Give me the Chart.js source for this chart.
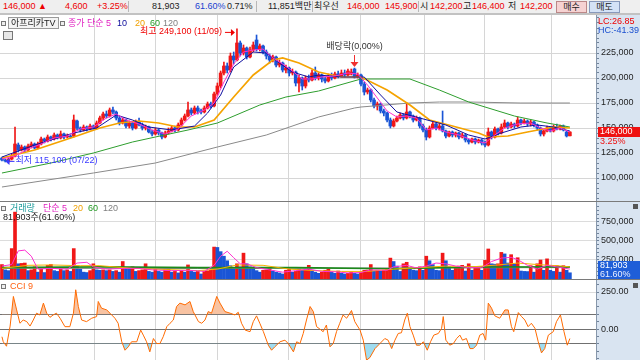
<!DOCTYPE html>
<html>
<head>
<meta charset="utf-8">
<script src="https://cdn.jsdelivr.net/npm/chart.js@4.4.1/dist/chart.umd.min.js"></script>
<style>
  body { margin: 0; background: #fff; }
  #wrap { position: relative; width: 640px; height: 360px; overflow: hidden; background: #fff;
          font-family: "Liberation Sans", "Noto Sans CJK KR", sans-serif; font-size: 9px; color: #222; }
  .a { position: absolute; white-space: nowrap; line-height: 11px; }
  canvas { position: absolute; left: 0; }
  .sq { position: absolute; width: 3px; height: 3px; border: 1px solid #777; background: #eee; }
  .vsep { position: absolute; top: 1px; width: 1px; height: 11px; background: #b8b8b8; }
</style>
</head>
<body>
<div id="wrap">
  <!-- header strip -->
  <div class="a" style="left:0;top:0;width:640px;height:13px;background:#efefef;"></div>
  <div class="a" style="left:0;top:13px;width:640px;height:2px;background:#c2c2c2;"></div>
  <span class="a" style="left:3px;top:1px;color:#e00;">146,000 ▲</span>
  <span class="a" style="left:65px;top:1px;color:#e00;">4,600</span>
  <span class="a" style="left:97px;top:1px;color:#e00;">+3.25%</span>
  <div class="vsep" style="left:128px;"></div>
  <span class="a" style="left:152px;top:1px;">81,903</span>
  <span class="a" style="left:195px;top:1px;color:#1a3fd0;">61.60%</span>
  <span class="a" style="left:227px;top:1px;">0.71%</span>
  <div class="vsep" style="left:256px;"></div>
  <span class="a" style="left:268px;top:1px;">11,851백만</span>
  <div class="vsep" style="left:312px;"></div>
  <span class="a" style="left:314px;top:1px;">최우선</span>
  <span class="a" style="left:347px;top:1px;color:#e00;">146,000</span>
  <span class="a" style="left:385px;top:1px;color:#e00;">145,900</span>
  <div class="vsep" style="left:418px;"></div>
  <span class="a" style="left:420px;top:1px;">시</span>
  <span class="a" style="left:430px;top:1px;color:#e00;">142,200</span>
  <span class="a" style="left:463px;top:1px;">고</span>
  <span class="a" style="left:472px;top:1px;color:#e00;">146,400</span>
  <span class="a" style="left:508px;top:1px;">저</span>
  <span class="a" style="left:520px;top:1px;color:#e00;">142,200</span>
  <div class="a" style="left:556px;top:1px;width:29px;height:10px;background:#f6d2d2;border:1px solid #b88;text-align:center;line-height:10px;">매수</div>
  <div class="a" style="left:589px;top:1px;width:29px;height:10px;background:#d4e2f6;border:1px solid #89b;text-align:center;line-height:10px;">매도</div>

  <!-- right axis background -->
  <div class="a" style="left:596px;top:15px;width:44px;height:345px;background:#d9e4f1;"></div>

  <canvas id="cPrice" width="640" height="186" style="top:15px;"></canvas>
  <div class="a" style="left:0;top:201px;width:640px;height:1px;background:#7a7a7a;"></div>
  <canvas id="cVol" width="640" height="77" style="top:202px;"></canvas>
  <div class="a" style="left:0;top:279px;width:640px;height:1px;background:#7a7a7a;"></div>
  <canvas id="cCci" width="640" height="80" style="top:280px;"></canvas>

  <!-- price legend -->
  <div class="sq" style="left:1px;top:21px;"></div>
  <div class="a" style="left:8px;top:17px;width:47px;height:10px;border:1px solid #9a9a9a;background:#f4f4f4;line-height:10px;padding-left:2px;">아프리카TV</div>
  <div class="sq" style="left:60px;top:21px;"></div>
  <span class="a" style="left:68px;top:18px;color:#e020c0;">종가 단순 5</span>
  <span class="a" style="left:117px;top:18px;color:#0a0a9a;">10</span>
  <span class="a" style="left:135px;top:18px;color:#f0a000;">20</span>
  <span class="a" style="left:150px;top:18px;color:#229a22;">60</span>
  <span class="a" style="left:163px;top:18px;color:#808080;">120</span>
  <div class="a" style="left:3px;top:31px;width:8px;height:7px;border:1px solid #777;background:#e8e8e8;"></div>
  <span class="a" style="left:598px;top:16px;color:#e00;">LC:26.85</span>
  <span class="a" style="left:598px;top:25px;color:#1a4fd0;">HC:-41.39</span>

  <!-- volume legend -->
  <div class="sq" style="left:1px;top:206px;"></div>
  <span class="a" style="left:10px;top:203px;color:#1a9a9a;">거래량</span>
  <span class="a" style="left:43px;top:203px;color:#e020c0;">단순 5</span>
  <span class="a" style="left:73px;top:203px;color:#f0a000;">20</span>
  <span class="a" style="left:88px;top:203px;color:#229a22;">60</span>
  <span class="a" style="left:103px;top:203px;color:#808080;">120</span>
  <span class="a" style="left:3px;top:212px;color:#222;">81,903주(61.60%)</span>
  <div class="a" style="left:633px;top:204px;width:5px;height:5px;background:#555;"></div>

  <!-- cci legend -->
  <div class="sq" style="left:1px;top:284px;"></div>
  <span class="a" style="left:10px;top:281px;color:#ff6010;">CCI 9</span>
  <div class="a" style="left:633px;top:283px;width:5px;height:5px;background:#555;"></div>
</div>

<script>
// daily candles, prices in thousands of won
const opens = [120,118,117,119,122,133,128,131,128,132,
  134,130,134,139,137,141,139,143,140,144,
  141,142,142,157,150,148,151,149,152,150,
  155,160,164,162,168,166,160,155,158,152,
  155,150,156,153,150,151,146,144,148,145,
  141,145,147,150,148,153,158,162,168,165,
  170,167,166,170,174,172,184,192,205,212,
  208,222,218,235,225,230,221,228,238,229,
  232,226,222,218,221,213,215,208,210,205,
  206,195,200,192,200,198,205,200,203,199,
  197,202,200,204,202,205,203,204,209,201,
  203,194,186,188,178,172,174,167,165,158,
  152,157,160,163,160,166,162,158,160,152,
  148,141,150,154,150,152,147,142,146,143,
  145,141,143,138,136,139,136,138,135,133,
  146,141,149,145,151,155,151,154,152,158,
  155,157,154,156,153,150,144,147,150,147,
  151,149,152,146,142.2];
const highs = [121,119,120,124,151,135,133,132,134,136,
  135,136,141,140,143,142,145,144,147,145,
  144,143,163,158,151,153,152,154,153,157,
  162,166,167,170,171,167,162,160,159,157,
  156,158,160,155,153,152,148,150,149,146,
  147,150,152,152,155,160,164,176,170,172,
  172,169,172,176,176,186,195,207,216,215,
  225,226,249.1,237,233,231,231,236,243,234,
  233,228,224,223,222,218,216,213,211,209,
  207,203,201,202,203,208,211,205,204,201,
  204,205,206,207,208,208,209,209,210,205,
  204,196,190,189,180,176,175,169,166,160,
  159,162,165,164,175,167,163,162,161,154,
  150,152,156,155,154,167,148,147,147,146,
  146,145,144,139,140,140,139,139,137,150,
  147,151,150,154,158,156,156,155,161,159,
  159,158,158,157,154,151,148,152,151,153,
  154,153,153,147,146.4];
const lows = [117,116,115.1,118,121,126,127,126,127,130,
  129,129,133,135,136,137,138,139,139,139,
  140,140,141,148,146,147,147,148,149,149,
  154,158,160,161,164,158,153,154,150,150,
  148,149,152,148,148,145,142,143,143,139,
  140,144,146,146,147,152,157,161,163,164,
  164,164,165,169,170,171,182,190,203,205,
  206,214,217,222,223,219,220,226,227,227,
  224,219,215,216,211,211,206,205,202,203,
  192,186,188,190,196,197,198,198,196,195,
  196,198,199,200,201,201,202,203,200,200,
  192,183,184,176,170,168,165,162,156,150,
  151,156,159,158,159,160,156,157,150,146,
  138,140,149,148,148,146,140,141,141,141,
  139,140,136,134,135,134,135,133,131,132,
  139,140,143,144,150,149,150,150,151,153,
  154,152,152,151,148,142,142,146,146,146,
  148,148,147,141,142.2];
const closes = [118,117,119,122,134,128,131,128,132,134,
  130,134,139,137,141,139,143,140,144,141,
  142,141,158,150,148,151,149,152,150,155,
  160,164,162,168,166,160,155,158,152,155,
  150,156,153,150,151,146,144,148,145,141,
  145,147,150,148,153,158,162,168,165,170,
  167,166,170,174,172,184,192,205,212,208,
  222,218,235,225,230,221,228,233,229,232,
  226,222,218,221,213,215,208,210,205,206,
  195,200,192,200,198,205,200,203,199,197,
  202,200,204,202,205,203,207,206,201,203,
  194,186,188,178,172,174,167,165,158,152,
  157,160,163,160,166,162,158,160,152,148,
  141,150,154,150,152,147,142,146,143,145,
  141,143,138,136,139,136,138,135,133,146,
  141,149,145,151,155,151,154,152,158,155,
  157,154,156,153,150,144,147,150,147,151,
  149,152,148,142,146];
// volume, thousands of shares
const volumes = [190,120,110,400,880,200,205,210,110,120,
  160,90,130,85,180,190,110,100,130,110,
  120,100,400,170,130,90,85,110,200,120,
  115,120,110,120,100,110,90,230,150,130,
  160,100,110,120,200,100,90,130,100,90,
  120,130,90,100,80,110,90,185,100,90,
  100,66,105,108,115,420,415,360,300,240,
  175,130,200,160,340,200,160,150,110,90,
  115,118,140,105,90,80,66,115,130,90,
  100,130,115,130,180,105,90,75,90,115,
  130,90,75,105,75,66,75,90,75,66,
  90,115,118,190,105,115,105,115,130,275,
  230,170,100,200,220,130,115,110,160,115,
  300,240,190,115,110,340,240,160,115,140,
  170,180,105,200,115,150,150,115,245,395,
  200,195,200,350,330,210,320,200,280,105,
  100,98,175,90,200,250,115,265,115,100,
  175,90,175,115,81.903];

// moving averages: [candle index, value]
const ma5 = [[0,119],[4,122],[8,129],[12,134],[16,140],[20,142],[24,149],[28,151],[32,160],[35,164],[38,158],[42,154],[46,148],[50,144],[54,149],[58,162],[62,168],[65,175],[68,196],[71,214],[74,226],[77,228],[80,229],[83,220],[86,214],[89,207],[92,199],[95,199],[98,201],[102,202],[106,205],[109,204],[112,193],[115,180],[118,167],[121,161],[124,162],[127,160],[130,148],[133,150],[136,146],[140,143],[144,138],[148,135],[151,143],[154,150],[158,154],[162,155],[165,150],[168,147],[171,150],[174,146]];
const ma10 = [[0,121],[10,133],[22,145],[29,150],[35,163],[40,158],[45,151],[52,148],[59,152],[63,165],[67,183],[71,211],[77,226],[81,225],[85,215],[89,206],[94,201],[97,203],[104,201],[111,201],[116,183],[121,166],[128,160],[136,153],[143,143],[148,139],[153,145],[159,151],[164,153],[169,151],[174,147]];
const ma20 = [[0,120],[10,128],[22,141],[30,150],[36,155],[42,157],[48,155],[54,151],[59,151],[65,158],[71,181],[77,203],[83,218],[86,220],[91,215],[97,206],[104,201],[110,201],[118,188],[125,173],[131,158],[138,152],[146,145],[149,141],[155,142],[161,146],[169,151],[174,150]];
const ma60 = [[0,105],[15,115],[28,125],[40,136],[47,141],[57,148],[66,155],[79,173],[87,181],[97,187],[110,199],[125,199],[134,188],[143,176],[157,162],[167,155],[174,151]];
const ma120 = [[0,91],[28,105],[47,115],[66,131],[81,143],[97,161],[108,170],[110,171],[125,175],[134,176],[143,176],[159,175],[174,175]];

const volMa5 = [[0,170],[3,190],[5,370],[7,380],[9,300],[11,130],[15,140],[20,130],[23,210],[26,220],[28,160],[32,130],[38,140],[42,140],[46,120],[52,110],[57,115],[62,100],[65,180],[67,300],[69,365],[71,280],[73,200],[75,200],[78,150],[82,120],[86,90],[90,110],[94,130],[98,100],[102,95],[106,80],[110,85],[113,120],[118,115],[120,160],[124,180],[127,145],[130,170],[133,210],[136,200],[139,170],[143,150],[147,150],[150,230],[153,275],[156,285],[158,255],[161,180],[164,130],[167,180],[170,160],[174,130]];
const volMa20 = [[0,140],[8,180],[15,185],[24,175],[30,175],[40,140],[50,125],[60,110],[66,130],[72,185],[80,180],[88,130],[96,110],[104,100],[112,100],[120,130],[128,150],[136,170],[144,160],[152,185],[158,210],[164,190],[170,175],[174,160]];
const volMa60 = [[0,150],[30,160],[60,150],[90,150],[120,135],[135,150],[150,158],[174,160]];
const volMa120 = [[0,140],[60,138],[120,145],[174,150]];

const cci = [[0,-52],[0.4,-86],[1.4,-116],[2.5,20],[3.5,220],[4.5,129],[5.5,39],[6.5,61],[7.6,50],[8.6,20],[9.6,61],[10.6,107],[11.6,95],[12.7,175],[13.7,107],[14.7,79],[15.7,95],[16.7,107],[17.8,73],[19.3,16],[20.8,16],[21.9,107],[22.6,265],[23.4,152],[24.4,61],[25.9,50],[27.5,73],[29,84],[29.5,186],[30.5,141],[32.1,129],[33.1,107],[34.6,73],[35.6,39],[36.7,-86],[37.7,-143],[38.7,-120],[39.7,-86],[41.3,-86],[42.5,-7],[43.3,-41],[44.3,-86],[45.3,-154],[46.4,-64],[47.4,-98],[48.4,-98],[49.4,-52],[50.5,16],[51.5,39],[52.5,61],[53.5,152],[54.5,175],[56.1,163],[57.6,186],[58.6,118],[60.2,50],[61.2,39],[62.2,61],[63.2,118],[64.2,107],[65.8,220],[66.8,175],[68.3,118],[69.9,107],[71.4,95],[72.4,113],[73.4,39],[74.5,-7],[76,-18],[77,50],[78,89],[79,39],[80.1,-18],[81.6,-109],[82.6,-143],[83.6,-120],[85.2,-86],[86.7,-75],[87.7,-98],[89.3,-154],[90.3,-86],[91.3,-98],[92.3,-30],[93.3,61],[94.4,152],[95.4,118],[96.4,16],[97.4,0],[98.4,-18],[99.4,27],[100.5,-120],[101.5,-98],[102.5,-18],[103.5,39],[104.5,95],[105.6,73],[107.1,125],[108.1,50],[109.7,-7],[110.7,-75],[111.7,-210],[112.7,-193],[114.3,-132],[115.8,-98],[117.3,-64],[118.3,-75],[119.4,-132],[120.4,-75],[121.4,-30],[122.4,-25],[123.4,61],[124.2,107],[125,16],[126,-41],[127,-109],[128,-109],[129.1,-86],[130.3,-143],[131.3,-86],[132.3,-41],[133.7,-30],[134.7,5],[135.2,84],[136,-75],[137.2,-109],[138.3,-98],[139.3,-64],[140.3,-41],[141.1,-75],[142.3,-64],[143.4,-132],[144.4,-132],[145.4,-109],[146.4,-41],[147.4,-30],[148.2,-75],[149,175],[150,141],[151,89],[152.5,73],[154.1,129],[155.1,129],[156.1,16],[156.8,-18],[158.2,111],[159.2,84],[160.2,61],[161.2,16],[162.2,39],[163.3,5],[164.3,-86],[165.3,-161],[166.3,-132],[167.4,-41],[168.9,-18],[169.9,50],[171.1,95],[172.2,-18],[173.2,-109],[174,-64]];

// axis ticks
const priceLabels = [100000, 125000, 150000, 175000, 200000, 225000];
const volLabels = [250000, 500000, 750000];
const cciLabels = [250, 0];
const cciLines = [100, 0, -100];
const gridIdx = [28.2, 46.9, 65.9, 87.9, 109.7, 129.6, 147.7, 168.5];

const highIdx = 72, lowIdx = 2, divIdx = 108;
const lastPrice = 146000, lastPct = '3.25%';
const lastVol = 81903, lastVolPct = '61.60%';

const K = 1000;
const FONT = '"Liberation Sans", "Noto Sans CJK KR", sans-serif';
const RED = '#f01818', BLUE = '#1a55d6';
const X_MIN = -0.6, X_MAX = 182;

const idx = closes.map((_, i) => i);
const pts = (arr, f) => arr.map(([i, v]) => ({ x: i, y: v * f }));
const fmt = v => Math.round(v).toLocaleString('en-US');
const range = (a, b, s) => { const r = []; for (let v = a; v <= b; v += s) r.push(v); return r; };

function lineDs(data, color, width) {
  return { type: 'line', data, borderColor: color, borderWidth: width || 1, pointRadius: 0, fill: false, order: 1 };
}

function xScale() {
  return {
    type: 'linear', min: X_MIN, max: X_MAX, offset: false,
    ticks: { display: false },
    grid: { color: '#d6d6d6', drawTicks: false, offset: false },
    border: { display: false },
    afterBuildTicks: s => { s.ticks = gridIdx.map(v => ({ value: v })); }
  };
}

function yScale(min, max, minor, labelFn, gridFn) {
  return {
    position: 'right', min, max,
    ticks: { autoSkip: false, color: '#1e1e1e', padding: 2, font: { family: FONT, size: 9 }, callback: labelFn },
    grid: { color: gridFn, tickColor: '#70839a', tickLength: 3 },
    border: { display: true, color: '#8797ab' },
    afterBuildTicks: s => { s.ticks = minor.map(v => ({ value: v })); },
    afterFit: s => { s.width = 44; s.paddingTop = 0; s.paddingBottom = 0; }
  };
}

function baseOptions(y) {
  return {
    responsive: false, animation: false,
    layout: { padding: 0 },
    plugins: { legend: { display: false }, tooltip: { enabled: false } },
    scales: { x: xScale(), y }
  };
}

/* --- price panel --- */
const candleColor = ctx => closes[ctx.dataIndex] >= opens[ctx.dataIndex] ? RED : BLUE;

const priceOverlay = {
  id: 'priceOverlay',
  afterDraw(chart) {
    const { ctx, scales: { x, y } } = chart;
    ctx.save();
    ctx.font = '9px ' + FONT;
    ctx.textBaseline = 'middle';

    // highest price marker
    const hx = x.getPixelForValue(highIdx) - 2, hy = y.getPixelForValue(highs[highIdx] * K) + 3;
    ctx.strokeStyle = ctx.fillStyle = '#f00000';
    ctx.lineWidth = 1;
    ctx.beginPath(); ctx.moveTo(hx - 10, hy + 0.5); ctx.lineTo(hx - 3, hy + 0.5); ctx.stroke();
    ctx.beginPath(); ctx.moveTo(hx, hy + 0.5); ctx.lineTo(hx - 4, hy - 3); ctx.lineTo(hx - 4, hy + 4); ctx.fill();
    ctx.textAlign = 'right';
    ctx.fillText('최고 249,100 (11/09)', hx - 13, hy);

    // lowest price marker
    const lx = x.getPixelForValue(lowIdx) - 3, ly = y.getPixelForValue(lows[lowIdx] * K) - 2;
    ctx.strokeStyle = ctx.fillStyle = '#3a3aff';
    ctx.beginPath(); ctx.moveTo(lx + 3, ly + 0.5); ctx.lineTo(lx + 9, ly + 0.5); ctx.stroke();
    ctx.beginPath(); ctx.moveTo(lx, ly + 0.5); ctx.lineTo(lx + 4, ly - 3); ctx.lineTo(lx + 4, ly + 4); ctx.fill();
    ctx.textAlign = 'left';
    ctx.fillText('최저 115,100 (07/22)', lx + 10, ly);

    // ex-dividend marker
    const dx = Math.round(x.getPixelForValue(divIdx)) + 0.5, dy = y.getPixelForValue(highs[divIdx] * K) - 1;
    ctx.fillStyle = '#333';
    ctx.textAlign = 'center';
    ctx.fillText('배당락(0,00%)', dx, dy - 20);
    ctx.strokeStyle = ctx.fillStyle = '#f03030';
    ctx.beginPath(); ctx.moveTo(dx, dy - 12); ctx.lineTo(dx, dy - 4); ctx.stroke();
    ctx.beginPath(); ctx.moveTo(dx - 4, dy - 5); ctx.lineTo(dx + 4, dy - 5); ctx.lineTo(dx, dy); ctx.fill();

    // last price tag on the axis
    const py = Math.round(y.getPixelForValue(lastPrice));
    const left = chart.chartArea.right + 2;
    ctx.fillStyle = '#ee1111';
    ctx.fillRect(left, py - 5, chart.width - left, 10);
    ctx.fillStyle = '#fff';
    ctx.textAlign = 'left';
    ctx.fillText(fmt(lastPrice), left + 2, py);
    ctx.fillStyle = '#ee1111';
    ctx.fillText(lastPct, left + 2, py + 10);
    ctx.restore();
  }
};

new Chart(document.getElementById('cPrice'), {
  type: 'bar',
  data: {
    datasets: [
      lineDs(pts(ma5, K), '#ff30d0'),
      lineDs(pts(ma10, K), '#1010a0'),
      lineDs(pts(ma20, K), '#f5a300', 1.7),
      lineDs(pts(ma60, K), '#2e9e2e'),
      lineDs(pts(ma120, K), '#8a8a8a'),
      { type: 'bar', data: idx.map(i => ({ x: i, y: [lows[i] * K, highs[i] * K] })),
        backgroundColor: candleColor, barThickness: 1, grouped: false, order: 5 },
      { type: 'bar', data: idx.map(i => ({ x: i, y: [opens[i] * K, closes[i] * K] })),
        backgroundColor: candleColor, barThickness: 3, grouped: false, minBarLength: 1, order: 4 }
    ]
  },
  options: baseOptions(yScale(77000, 263000, range(80000, 260000, 5000),
    v => (priceLabels.includes(v) ? fmt(v) : ''),
    c => (priceLabels.includes(c.tick.value) ? '#d6d6d6' : 'rgba(0,0,0,0)'))),
  plugins: [priceOverlay]
});

/* --- volume panel --- */
const volColor = ctx => {
  const i = ctx.dataIndex;
  return i === 0 || volumes[i] >= volumes[i - 1] ? RED : BLUE;
};

const volOverlay = {
  id: 'volOverlay',
  afterDraw(chart) {
    const { ctx, scales: { y } } = chart;
    const py = Math.round(y.getPixelForValue(lastVol * 2.1));
    const left = chart.chartArea.right + 2;
    ctx.save();
    ctx.font = '9px ' + FONT;
    ctx.textBaseline = 'middle';
    ctx.fillStyle = '#1f5ed8';
    ctx.fillRect(left, py - 5, chart.width - left, 19);
    ctx.fillStyle = '#fff';
    ctx.fillText(fmt(lastVol), left + 2, py);
    ctx.fillStyle = '#e8eeff';
    ctx.fillText(lastVolPct, left + 2, py + 9);
    ctx.restore();
  }
};

new Chart(document.getElementById('cVol'), {
  type: 'bar',
  data: {
    datasets: [
      lineDs(pts(volMa5, K), '#ff30d0'),
      lineDs(pts(volMa20, K), '#f5b000'),
      lineDs(pts(volMa60, K), '#1b8a1b', 1.6),
      lineDs(pts(volMa120, K), '#8a8a8a'),
      { type: 'bar', data: idx.map(i => ({ x: i, y: volumes[i] * K })),
        backgroundColor: volColor, barThickness: 3, grouped: false, order: 5 }
    ]
  },
  options: baseOptions(yScale(0, 1013000, range(50000, 950000, 50000),
    v => (volLabels.includes(v) ? fmt(v) : ''),
    c => (volLabels.includes(c.tick.value) ? '#dcdcdc' : 'rgba(0,0,0,0)'))),
  plugins: [volOverlay]
});

/* --- CCI panel --- */
const cciPts = pts(cci, 1);
new Chart(document.getElementById('cCci'), {
  type: 'line',
  data: {
    datasets: [
      { data: cciPts, borderColor: 'rgba(0,0,0,0)', pointRadius: 0, order: 3,
        fill: { target: { value: 100 }, above: '#f8c3a2', below: 'rgba(0,0,0,0)' } },
      { data: cciPts, borderColor: 'rgba(0,0,0,0)', pointRadius: 0, order: 3,
        fill: { target: { value: -100 }, above: 'rgba(0,0,0,0)', below: '#9fdcf0' } },
      { data: cciPts, borderColor: '#ff6a00', borderWidth: 1, pointRadius: 0, fill: false, order: 1 }
    ]
  },
  options: baseOptions(yScale(-209, 331, range(-200, 300, 50),
    v => (cciLabels.includes(v) ? v.toFixed(2) : ''),
    c => (cciLines.includes(c.tick.value) ? '#707070' : (c.tick.value === 250 ? '#dcdcdc' : 'rgba(0,0,0,0)'))))
});
</script>
</body>
</html>
